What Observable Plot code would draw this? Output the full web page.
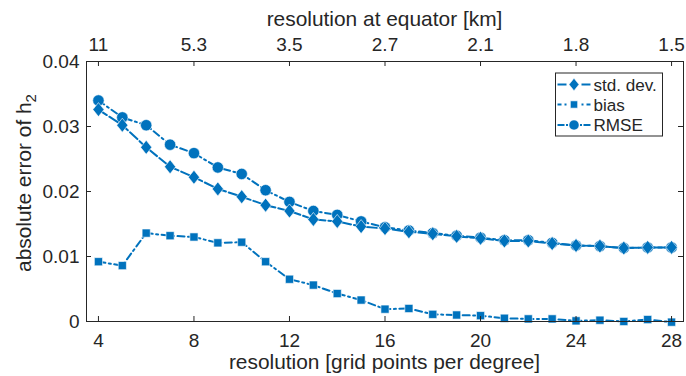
<!DOCTYPE html>
<html><head><meta charset="utf-8">
<script src="https://cdn.jsdelivr.net/npm/d3@7"></script>
<script src="https://cdn.jsdelivr.net/npm/@observablehq/plot@0.6"></script>
<style>
body{margin:0;background:#fff;}
#chart svg{display:block;}
</style>
</head><body><div id="chart"></div>
<script>
// ---- data ----
const gridRes = [4,5,6,7,8,9,10,11,12,13,14,15,16,17,18,19,20,21,22,23,24,25,26,27,28];
const stdDev = [0.0326,0.0302,0.0268,0.0238,0.0222,0.0204,0.0192,0.0179,0.0170,0.0157,0.0154,0.0146,0.0143,0.0138,0.0135,0.0131,0.0128,0.0124,0.0124,0.0120,0.0117,0.0116,0.0113,0.0114,0.0114];
const bias   = [0.0092,0.0086,0.0136,0.0132,0.0130,0.0121,0.0122,0.0092,0.0065,0.0056,0.0043,0.0033,0.0019,0.0020,0.0011,0.0010,0.0009,0.0005,0.0004,0.0004,0.0001,0.0002,0.0000,0.0003,-0.0001];
const rmse   = [0.0340,0.0314,0.0302,0.0272,0.0259,0.0237,0.0227,0.0202,0.0184,0.0170,0.0164,0.0154,0.0145,0.0140,0.0136,0.0132,0.0129,0.0125,0.0125,0.0121,0.0117,0.0116,0.0113,0.0114,0.0114];
const seriesNames = ["std. dev.","bias","RMSE"];
const xTicks = [4,8,12,16,20,24,28];
const xTickLabels = ["4","8","12","16","20","24","28"];
const topTickLabels = ["11","5.3","3.5","2.7","2.1","1.8","1.5"];
const yTicks = [0,0.01,0.02,0.03,0.04];
const yTickLabels = ["0","0.01","0.02","0.03","0.04"];
const xLabel = "resolution [grid points per degree]";
const topLabel = "resolution at equator [km]";
const yLabelMain = "absolute error of h";
const yLabelSub = "2";

// ---- styling ----
const W = 686, H = 376, mL = 86, mR = 3, mT = 61, mB = 55;
const frameW = W - mL - mR, frameH = H - mT - mB;
const blue = "#0072BD", ink = "#262626";
const FONT = "'Liberation Sans', Arial, Helvetica, sans-serif";

const diamond = {draw(ctx, size){const r=Math.sqrt(size/Math.PI);const h=r*1.17,w=r*0.93;ctx.moveTo(0,-h);ctx.lineTo(w,0);ctx.lineTo(0,h);ctx.lineTo(-w,0);ctx.closePath();}};
const styles = {
  "std. dev.": {symbol: diamond, r: 6, dash: "10,3"},
  "bias": {symbol: "square", r: 4.6, dash: "7,3.5,2,3.5"},
  "RMSE": {symbol: "circle", r: 5.7, dash: "7,3.5,2,3.5"}
};
const valuesBySeries = {"std. dev.": stdDev, "bias": bias, "RMSE": rmse};
const rows = name => gridRes.map((x,i)=>({x, y: valuesBySeries[name][i], s: name}));

const marks = [];
for (const name of ["RMSE","bias","std. dev."]) {
  const st = styles[name];
  marks.push(Plot.line(rows(name), {x:"x", y:"y", stroke: blue, strokeWidth: 2, strokeDasharray: st.dash}));
  marks.push(Plot.dot(rows(name), {x:"x", y:"y", symbol: st.symbol, r: st.r, fill: blue, stroke: "white", strokeWidth: 0.6}));
}

const chart = Plot.plot({
  width: W, height: H,
  marginLeft: mL, marginRight: mR, marginTop: mT, marginBottom: mB,
  style: {fontFamily: FONT, color: ink, background: "white", overflow: "visible"},
  x: {domain: [3.5, 28.5]},
  y: {domain: [0, 0.04]},
  marks: [
    ...marks,
    Plot.frame({stroke: ink, strokeWidth: 1}),
    Plot.tickX(xTicks, {x: d=>d, stroke: ink, insetTop: frameH - 5}),
    Plot.tickX(xTicks, {x: d=>d, stroke: ink, insetBottom: frameH - 5}),
    Plot.tickY(yTicks, {y: d=>d, stroke: ink, insetRight: frameW - 5}),
    Plot.tickY(yTicks, {y: d=>d, stroke: ink, insetLeft: frameW - 5}),
    Plot.axisX(xTicks, {anchor: "bottom", tickSize: 0, tickPadding: 12, fontSize: 19, label: null, tickFormat: d => xTickLabels[xTicks.indexOf(d)]}),
    Plot.axisX(xTicks, {anchor: "top", tickSize: 0, tickPadding: 11, fontSize: 19, label: null, tickFormat: d => topTickLabels[xTicks.indexOf(d)]}),
    Plot.axisY(yTicks, {anchor: "left", tickSize: 0, tickPadding: 7, fontSize: 19, label: null, tickFormat: d => yTickLabels[yTicks.indexOf(d)]})
  ]
});
document.getElementById("chart").appendChild(chart);

// ---- axis titles and legend ----
const svg = d3.select(chart);
svg.append("text").attr("x", mL + frameW/2).attr("y", 369).attr("text-anchor","middle")
  .attr("font-family", FONT).attr("font-size", 20.9).attr("fill", ink).text(xLabel);
svg.append("text").attr("x", mL + frameW/2).attr("y", 26).attr("text-anchor","middle")
  .attr("font-family", FONT).attr("font-size", 20.9).attr("fill", ink).text(topLabel);
const yl = svg.append("text").attr("transform", "translate(31,183) rotate(-90)").attr("text-anchor","middle")
  .attr("font-family", FONT).attr("font-size", 20.9).attr("fill", ink);
yl.append("tspan").text(yLabelMain);
yl.append("tspan").attr("dy", 5).attr("font-size", 15).text(yLabelSub);

const lg = svg.append("g").attr("transform", "translate(555.5,73)");
lg.append("rect").attr("width", 107).attr("height", 63).attr("fill", "white").attr("stroke", ink).attr("stroke-width", 1);
const legendY = [11.5, 31.5, 52];
const legendDash = ["9,15,9", "4,3,2,15,2,3,4", "7,1.5,2,12,2,1.5,7"];
seriesNames.forEach((name, i) => {
  const st = styles[name];
  const g = lg.append("g").attr("transform", `translate(0,${legendY[i]})`);
  g.append("line").attr("x1", 2).attr("x2", 35).attr("stroke", blue).attr("stroke-width", 2)
    .attr("stroke-dasharray", legendDash[i]);
  const sym = typeof st.symbol === "string" ? (st.symbol === "square" ? d3.symbolSquare : d3.symbolCircle) : st.symbol;
  g.append("path").attr("transform", "translate(18.5,0)")
    .attr("d", d3.symbol(sym, Math.PI * st.r * st.r * 0.8)()).attr("fill", blue).attr("stroke", "white").attr("stroke-width", 0.6);
  g.append("text").attr("x", 38).attr("y", 0).attr("dy", "0.35em").attr("text-anchor", "start")
    .attr("font-family", FONT).attr("font-size", 17.1).attr("fill", ink).text(name);
});
</script>
</body></html>
